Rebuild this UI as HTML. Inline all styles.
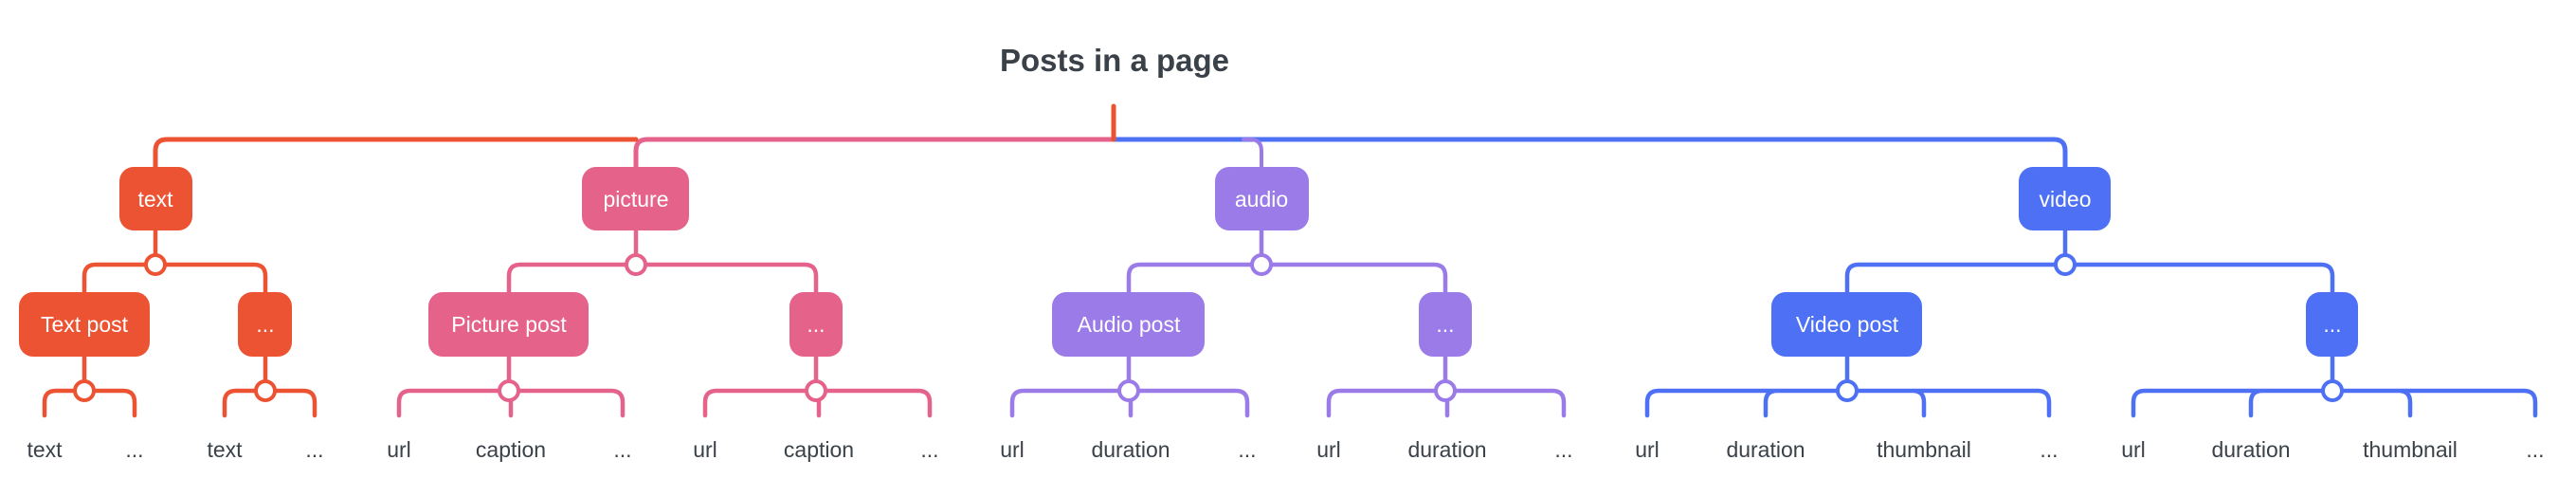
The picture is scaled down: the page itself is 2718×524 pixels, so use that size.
<!DOCTYPE html>
<html><head><meta charset="utf-8"><style>
html,body{margin:0;padding:0;background:#fff;}
svg{display:block}
text{font-family:"Liberation Sans",sans-serif;}
</style></head><body>
<svg width="2718" height="524" viewBox="0 0 2718 524" xmlns="http://www.w3.org/2000/svg">
<g fill="none" stroke-linecap="round" stroke-linejoin="round">
<!-- top -->
<path d="M1175 147 H2167 Q2179 147 2179 159 V176" stroke="#4D70F5" stroke-width="5"/>
<path d="M1312 147 H1319 Q1331 147 1331 159 V176" stroke="#9B7BE8" stroke-width="4"/>
<path d="M671 176 V159 Q671 147 683 147 H1175" stroke="#E5628B" stroke-width="5"/>
<path d="M164 176 V159 Q164 147 176 147 H671" stroke="#EC5333" stroke-width="5"/>
<path d="M1175 112 V147" stroke="#EC5333" stroke-width="5"/>

<!-- text -->
<g stroke="#EC5333" stroke-width="4.5">
<path d="M164 243 V279 M89 308 V291 Q89 279 101 279 H268 Q280 279 280 291 V308"/>
<path d="M89 376 V412 M47 438 V424 Q47 412 59 412 H130 Q142 412 142 424 V438"/>
<path d="M280 376 V412 M237 438 V424 Q237 412 249 412 H320 Q332 412 332 424 V438"/>
</g>
<!-- picture -->
<g stroke="#E5628B" stroke-width="4.5">
<path d="M671 243 V279 M537 308 V291 Q537 279 549 279 H849 Q861 279 861 291 V308"/>
<path d="M537 376 V412 M421 438 V424 Q421 412 433 412 H645 Q657 412 657 424 V438 M539 412 V438"/>
<path d="M861 376 V412 M744 438 V424 Q744 412 756 412 H969 Q981 412 981 424 V438 M864 412 V438"/>
</g>
<!-- audio -->
<g stroke="#9B7BE8" stroke-width="4.5">
<path d="M1331 243 V279 M1191 308 V291 Q1191 279 1203 279 H1513 Q1525 279 1525 291 V308"/>
<path d="M1191 376 V412 M1068 438 V424 Q1068 412 1080 412 H1304 Q1316 412 1316 424 V438 M1193 412 V438"/>
<path d="M1525 376 V412 M1402 438 V424 Q1402 412 1414 412 H1638 Q1650 412 1650 424 V438 M1527 412 V438"/>
</g>
<!-- video -->
<g stroke="#4D70F5" stroke-width="4.5">
<path d="M2179 243 V279 M1949 308 V291 Q1949 279 1961 279 H2449 Q2461 279 2461 291 V308"/>
<path d="M1949 376 V412 M1738 438 V424 Q1738 412 1750 412 H2150 Q2162 412 2162 424 V438 M1863 438 V424 Q1863 412 1875 412 M2030 438 V424 Q2030 412 2018 412"/>
<path d="M2461 376 V412 M2251 438 V424 Q2251 412 2263 412 H2663 Q2675 412 2675 424 V438 M2375 438 V424 Q2375 412 2387 412 M2543 438 V424 Q2543 412 2531 412"/>
</g>
</g>

<!-- circles -->
<g fill="#fff" stroke-width="4">
<circle cx="164" cy="279" r="10" stroke="#EC5333"/>
<circle cx="89" cy="412" r="10" stroke="#EC5333"/>
<circle cx="280" cy="412" r="10" stroke="#EC5333"/>
<circle cx="671" cy="279" r="10" stroke="#E5628B"/>
<circle cx="537" cy="412" r="10" stroke="#E5628B"/>
<circle cx="861" cy="412" r="10" stroke="#E5628B"/>
<circle cx="1331" cy="279" r="10" stroke="#9B7BE8"/>
<circle cx="1191" cy="412" r="10" stroke="#9B7BE8"/>
<circle cx="1525" cy="412" r="10" stroke="#9B7BE8"/>
<circle cx="2179" cy="279" r="10" stroke="#4D70F5"/>
<circle cx="1949" cy="412" r="10" stroke="#4D70F5"/>
<circle cx="2461" cy="412" r="10" stroke="#4D70F5"/>
</g>

<!-- boxes -->
<rect x="126" y="176" width="77" height="67" rx="15" fill="#EC5333"/>
<rect x="614" y="176" width="113" height="67" rx="15" fill="#E5628B"/>
<rect x="1282" y="176" width="99" height="67" rx="15" fill="#9B7BE8"/>
<rect x="2130" y="176" width="97" height="67" rx="15" fill="#4D70F5"/>
<rect x="20" y="308" width="138" height="68" rx="15" fill="#EC5333"/>
<rect x="251" y="308" width="57" height="68" rx="15" fill="#EC5333"/>
<rect x="452" y="308" width="169" height="68" rx="15" fill="#E5628B"/>
<rect x="833" y="308" width="56" height="68" rx="15" fill="#E5628B"/>
<rect x="1110" y="308" width="161" height="68" rx="15" fill="#9B7BE8"/>
<rect x="1497" y="308" width="56" height="68" rx="15" fill="#9B7BE8"/>
<rect x="1869" y="308" width="159" height="68" rx="15" fill="#4D70F5"/>
<rect x="2433" y="308" width="55" height="68" rx="15" fill="#4D70F5"/>

<g fill="#fff" font-size="23" text-anchor="middle">
<text x="164" y="218">text</text>
<text x="671" y="218">picture</text>
<text x="1331" y="218">audio</text>
<text x="2179" y="218">video</text>
<text x="89" y="350">Text post</text>
<text x="280" y="350">...</text>
<text x="537" y="350">Picture post</text>
<text x="861" y="350">...</text>
<text x="1191" y="350">Audio post</text>
<text x="1525" y="350">...</text>
<text x="1949" y="350">Video post</text>
<text x="2461" y="350">...</text>
</g>

<text x="1176" y="75" font-size="33" font-weight="bold" fill="#3B4148" text-anchor="middle">Posts in a page</text>

<g fill="#3B4148" font-size="23" text-anchor="middle">
<text x="47" y="482">text</text><text x="142" y="482">...</text>
<text x="237" y="482">text</text><text x="332" y="482">...</text>
<text x="421" y="482">url</text><text x="539" y="482">caption</text><text x="657" y="482">...</text>
<text x="744" y="482">url</text><text x="864" y="482">caption</text><text x="981" y="482">...</text>
<text x="1068" y="482">url</text><text x="1193" y="482">duration</text><text x="1316" y="482">...</text>
<text x="1402" y="482">url</text><text x="1527" y="482">duration</text><text x="1650" y="482">...</text>
<text x="1738" y="482">url</text><text x="1863" y="482">duration</text><text x="2030" y="482">thumbnail</text><text x="2162" y="482">...</text>
<text x="2251" y="482">url</text><text x="2375" y="482">duration</text><text x="2543" y="482">thumbnail</text><text x="2675" y="482">...</text>
</g>
</svg>
</body></html>
